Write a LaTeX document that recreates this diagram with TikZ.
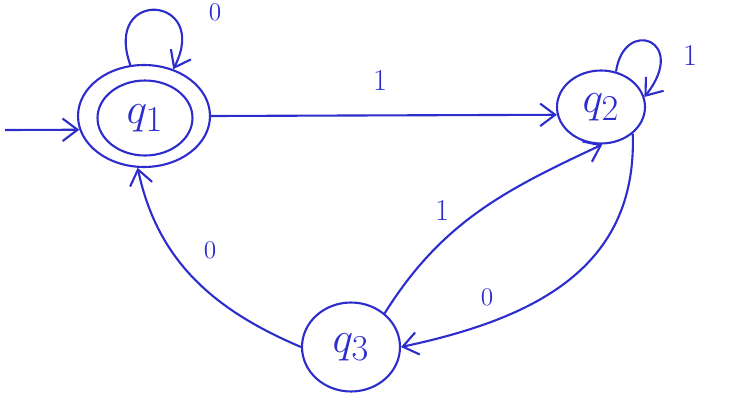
\documentclass[tikz,border=0pt]{standalone}
\usetikzlibrary{arrows.meta,shapes.geometric}
\definecolor{ink}{RGB}{45,45,205}
\begin{document}
\begin{tikzpicture}[x=0.02cm,y=-0.02cm,
  state/.style={ellipse,draw=ink,line width=1.2pt,inner sep=0pt,text=ink,font=\Huge},
  edge/.style={draw=ink,line width=1.2pt,-{Straight Barb[length=3mm,width=4.5mm]}},
  lbl/.style={text=ink,font=\LARGE},
  slbl/.style={text=ink,font=\Large}]
\useasboundingbox (0,0) rectangle (745,396);
% states
\node[state,minimum width=2.64cm,minimum height=2.04cm] (q1) at (144,116) {};
\node[state,minimum width=1.9cm,minimum height=1.5cm] (q1in) at (145,118) {$q_1$};
\node[state,minimum width=1.76cm,minimum height=1.46cm] (q2) at (601,107) {$q_2$};
\node[state,minimum width=1.96cm,minimum height=1.78cm] (q3) at (351,347) {$q_3$};
% initial arrow
\coordinate (start) at (5,130);
\draw[edge] (start) -- (q1.192);
% self loops
\draw[edge] (q1.105) .. controls +(-28,-78) and +(38,-74) .. (q1.58);
\draw[edge] (q2.67) .. controls +(8,-55) and +(45,-57) .. (q2.13);
% transitions
\draw[edge] (q1.east) -- (q2.190);
\draw[edge] (q3.45) to[out=58,in=205] (q2.272);
\draw[edge] (q2.-40) to[out=-88,in=12,looseness=1.1] (q3.east);
\draw[edge] (q3.west) to[out=157,in=-78] (q1.-97);
% labels
\node[slbl] (l11) at (215,12) {0};
\node[lbl] (l22) at (690,55) {1};
\node[lbl] (l12) at (380,80) {1};
\node[lbl] (l32) at (442,210) {1};
\node[slbl] (l23) at (487,297) {0};
\node[slbl] (l31) at (210,250) {0};
\end{tikzpicture}
\end{document}
